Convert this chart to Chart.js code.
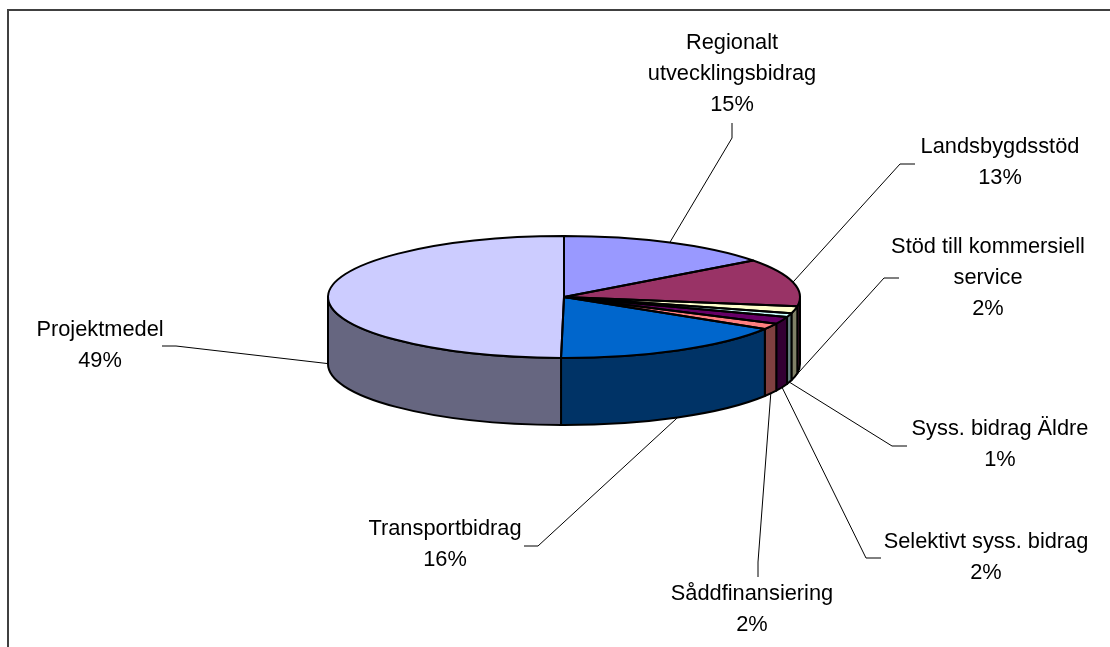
<!DOCTYPE html>
<html>
<head>
<meta charset="utf-8">
<style>
  html, body { margin: 0; padding: 0; background: #ffffff; }
  canvas { display: block; }
</style>
<script src="https://cdn.jsdelivr.net/npm/chart.js@4"></script>
</head>
<body>
<canvas id="stod_pie" width="1110" height="647"></canvas>
<script>
'use strict';

// data
const categories = [
  ['Regionalt', 'utvecklingsbidrag'],
  ['Landsbygdsstöd'],
  ['Stöd till kommersiell', 'service'],
  ['Syss. bidrag Äldre'],
  ['Selektivt syss. bidrag'],
  ['Såddfinansiering'],
  ['Transportbidrag'],
  ['Projektmedel']
];
const values = [14.8, 12.6, 1.9, 1.0, 1.9, 1.6, 16.4, 49.8];
const percentLabels = ['15%', '13%', '2%', '1%', '2%', '2%', '16%', '49%'];

// colours
const topColors = ['#9999ff', '#993366', '#ffffcc', '#ccffff', '#660066', '#ff8080', '#0066cc', '#ccccff'];
const wallColors = ['#4d4d80', '#4d1a33', '#808066', '#668080', '#330033', '#804040', '#003366', '#666680'];

// label placement: text centre x, y of first line
const labelX = [732, 1000, 988, 1000, 986, 752, 445, 100];
const labelY = [43, 147, 247, 429, 542, 594, 529, 330];
const lineGap = 30.8;

// leader lines: far end and elbow
const leaderEnd = [[732, 123], [915, 164], [899, 278], [907, 446], [881, 558], [758, 577], [524, 546], [162, 346]];
const leaderElbow = [[732, 138], [900, 164], [884, 278], [892, 446], [866, 558], [758, 562], [538, 546], [176, 346]];

// the flat pie is squashed to an ellipse, with a wall under it
const squash = 61 / 236;
const depth = 67;

function arcsOf(chart) {
  return chart.getDatasetMeta(0).data.map(function (el) {
    return el.getProps(['x', 'y', 'startAngle', 'endAngle', 'outerRadius'], true);
  });
}

const pie3d = {
  id: 'pie3d',
  beforeDraw(chart) {
    const ctx = chart.ctx;
    ctx.save();
    ctx.strokeStyle = '#404040';
    ctx.lineWidth = 2;
    ctx.beginPath();
    ctx.moveTo(8, 647);
    ctx.lineTo(8, 10);
    ctx.lineTo(1110, 10);
    ctx.stroke();
    ctx.restore();
  },
  beforeDatasetsDraw(chart) {
    const ctx = chart.ctx;
    const arcs = arcsOf(chart);
    ctx.save();

    // leaders go first, the pie covers their inner end
    ctx.strokeStyle = '#000000';
    ctx.lineWidth = 1;
    arcs.forEach(function (a, i) {
      const mid = (a.startAngle + a.endAngle) / 2;
      const ry = a.outerRadius * squash;
      const x = a.x + a.outerRadius * Math.cos(mid);
      const y = a.y + ry * Math.sin(mid) + (mid > 0 ? depth : 0);
      ctx.beginPath();
      ctx.moveTo(leaderEnd[i][0], leaderEnd[i][1]);
      ctx.lineTo(leaderElbow[i][0], leaderElbow[i][1]);
      ctx.lineTo(x, y);
      ctx.stroke();
    });

    // walls, only the part of each slice facing us
    ctx.strokeStyle = '#000000';
    ctx.lineWidth = 2;
    ctx.lineJoin = 'round';
    arcs.forEach(function (a, i) {
      const from = Math.max(a.startAngle, 0);
      const to = Math.min(a.endAngle, Math.PI);
      if (to <= from) return;
      const ry = a.outerRadius * squash;
      ctx.beginPath();
      ctx.ellipse(a.x, a.y, a.outerRadius, ry, 0, from, to);
      ctx.ellipse(a.x, a.y + depth, a.outerRadius, ry, 0, to, from, true);
      ctx.closePath();
      ctx.fillStyle = wallColors[i];
      ctx.fill();
      ctx.stroke();
    });
    ctx.restore();

    // library draws the slices inside this squash
    const c = arcs[0];
    ctx.save();
    ctx.translate(c.x, c.y);
    ctx.scale(1, squash);
    ctx.translate(-c.x, -c.y);
  },
  afterDatasetsDraw(chart) {
    const ctx = chart.ctx;
    ctx.restore();
    const arcs = arcsOf(chart);

    // slice outlines
    ctx.save();
    ctx.strokeStyle = '#000000';
    ctx.lineWidth = 2;
    ctx.lineJoin = 'round';
    arcs.forEach(function (a) {
      ctx.beginPath();
      ctx.moveTo(a.x, a.y);
      ctx.ellipse(a.x, a.y, a.outerRadius, a.outerRadius * squash, 0, a.startAngle, a.endAngle);
      ctx.closePath();
      ctx.stroke();
    });

    // labels
    ctx.fillStyle = '#000000';
    ctx.font = '21.8px "Liberation Sans", Arial, sans-serif';
    ctx.textAlign = 'center';
    ctx.textBaseline = 'middle';
    categories.forEach(function (lines, i) {
      lines.concat(percentLabels[i]).forEach(function (text, n) {
        ctx.fillText(text, labelX[i], labelY[i] + n * lineGap);
      });
    });
    ctx.restore();
  }
};

new Chart(document.getElementById('stod_pie').getContext('2d'), {
  type: 'pie',
  data: {
    labels: categories,
    datasets: [{
      data: values,
      backgroundColor: topColors,
      borderWidth: 0
    }]
  },
  options: {
    responsive: false,
    animation: false,
    events: [],
    layout: { padding: { left: 328, right: 310, top: 61, bottom: 114 } },
    plugins: {
      legend: { display: false },
      tooltip: { enabled: false }
    }
  },
  plugins: [pie3d]
});
</script>
</body>
</html>
